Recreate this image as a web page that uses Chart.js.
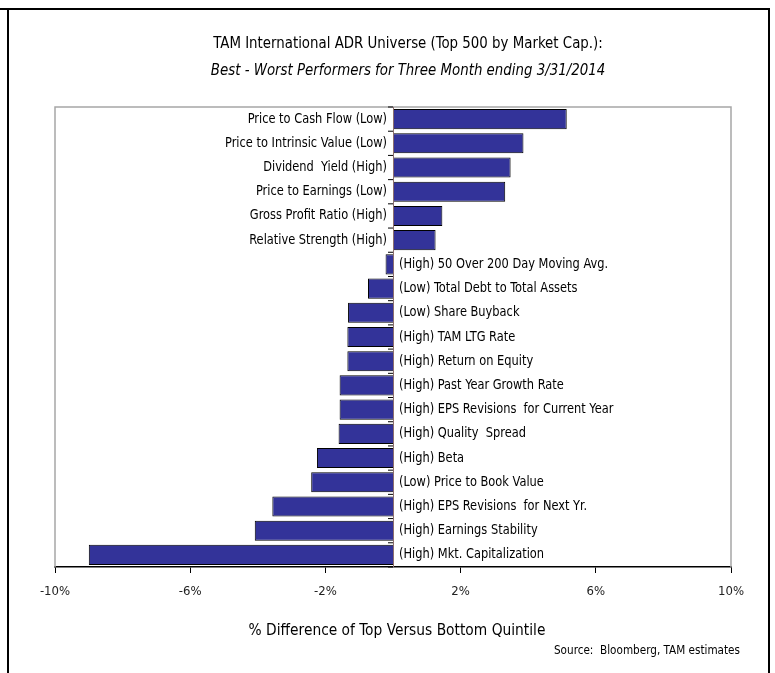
<!DOCTYPE html>
<html>
<head>
<meta charset="utf-8">
<script src="https://cdn.jsdelivr.net/npm/chart.js@4"></script>
<style>
  html, body { margin: 0; padding: 0; background: #fff; }
  #wrap { width: 775px; height: 673px; }
</style>
</head>
<body>
<div id="wrap"><canvas id="chart" width="775" height="673"></canvas></div>
<script>
// dati
const categories = [
  'Price to Cash Flow (Low)',
  'Price to Intrinsic Value (Low)',
  'Dividend  Yield (High)',
  'Price to Earnings (Low)',
  'Gross Profit Ratio (High)',
  'Relative Strength (High)',
  '(High) 50 Over 200 Day Moving Avg.',
  '(Low) Total Debt to Total Assets',
  '(Low) Share Buyback',
  '(High) TAM LTG Rate',
  '(High) Return on Equity',
  '(High) Past Year Growth Rate',
  '(High) EPS Revisions  for Current Year',
  '(High) Quality  Spread',
  '(High) Beta',
  '(Low) Price to Book Value',
  '(High) EPS Revisions  for Next Yr.',
  '(High) Earnings Stability',
  '(High) Mkt. Capitalization'
];
const spreadValues = [5.14, 3.86, 3.48, 3.32, 1.46, 1.26, -0.22, -0.74, -1.33, -1.35, -1.35, -1.58, -1.58, -1.61, -2.25, -2.42, -3.57, -4.09, -9.0];
const axisMin = -10;
const axisMax = 10;
const axisStep = 4;

const titleText = 'TAM International ADR Universe (Top 500 by Market Cap.):';
const subtitleText = 'Best - Worst Performers for Three Month ending 3/31/2014';
const xTitleText = '% Difference of Top Versus Bottom Quintile';
const sourceText = 'Source:  Bloomberg, TAM estimates';

const FONT = '"DejaVu Sans Condensed", "DejaVu Sans", sans-serif';

// testo stretto orizzontalmente (simula Calibri)
function narrowText(ctx, txt, x, y, align, sx) {
  ctx.save();
  ctx.translate(x, y);
  ctx.scale(sx, 1);
  ctx.textAlign = align;
  ctx.fillText(txt, 0, 0);
  ctx.restore();
}

// cornice, bordo area e testi
const decorPlugin = {
  id: 'decor',
  beforeDraw(c) {
    const ctx = c.ctx;
    ctx.save();
    ctx.fillStyle = '#fff';
    ctx.fillRect(0, 0, c.width, c.height);
    ctx.strokeStyle = '#000';
    ctx.lineWidth = 2;
    ctx.beginPath();
    ctx.moveTo(0, 9); ctx.lineTo(770, 9);
    ctx.moveTo(8, 9); ctx.lineTo(8, 673);
    ctx.moveTo(769, 9); ctx.lineTo(769, 673);
    ctx.stroke();
    ctx.restore();
  },
  beforeDatasetsDraw(c) {
    const ctx = c.ctx;
    const a = c.chartArea;
    ctx.save();
    ctx.strokeStyle = '#a6a6a6';
    ctx.lineWidth = 1.5;
    ctx.beginPath();
    ctx.moveTo(a.left, a.bottom); ctx.lineTo(a.left, a.top);
    ctx.lineTo(a.right, a.top); ctx.lineTo(a.right, a.bottom);
    ctx.stroke();
    ctx.restore();
  },
  afterDatasetsDraw(c) {
    const ctx = c.ctx;
    const a = c.chartArea;
    const x0 = c.scales.x.getPixelForValue(0);
    const yScale = c.scales.y;
    ctx.save();
    // asse verticale sullo zero
    ctx.strokeStyle = '#8c6f6f';
    ctx.lineWidth = 1;
    ctx.beginPath();
    ctx.moveTo(x0 + 0.5, a.top); ctx.lineTo(x0 + 0.5, a.bottom);
    ctx.stroke();
    ctx.strokeStyle = '#000';
    ctx.beginPath();
    const step = (a.bottom - a.top) / categories.length;
    for (let i = 0; i <= categories.length; i++) {
      const y = a.top + i * step;
      ctx.moveTo(x0 - 5, y); ctx.lineTo(x0, y);
    }
    ctx.stroke();

    // etichette categorie accanto allo zero
    ctx.fillStyle = '#000';
    ctx.font = '13.5px ' + FONT;
    ctx.textBaseline = 'middle';
    categories.forEach((lab, i) => {
      const y = yScale.getPixelForValue(i);
      if (spreadValues[i] >= 0) {
        narrowText(ctx, lab, x0 - 6, y, 'right', 0.94);
      } else {
        narrowText(ctx, lab, x0 + 6, y, 'left', 0.94);
      }
    });

    // titoli
    ctx.font = '16.5px ' + FONT;
    narrowText(ctx, titleText, 408, 44, 'center', 0.9);
    ctx.font = 'italic 16.5px ' + FONT;
    narrowText(ctx, subtitleText, 408, 71, 'center', 0.9);
    ctx.font = '16.5px ' + FONT;
    narrowText(ctx, xTitleText, 397, 631, 'center', 0.93);
    ctx.font = '12.5px ' + FONT;
    narrowText(ctx, sourceText, 740, 651, 'right', 0.93);
    ctx.restore();
  }
};

const chart = new Chart(document.getElementById('chart'), {
  type: 'bar',
  data: {
    labels: categories,
    datasets: [{
      data: spreadValues,
      backgroundColor: '#333399',
      borderColor: '#000',
      borderWidth: 1,
      barPercentage: 0.83,
      categoryPercentage: 1
    }]
  },
  options: {
    indexAxis: 'y',
    responsive: false,
    animation: false,
    devicePixelRatio: 1,
    layout: { padding: { left: 55, right: 44, top: 107, bottom: 66 } },
    plugins: { legend: { display: false }, title: { display: false }, tooltip: { enabled: false } },
    scales: {
      x: {
        min: axisMin,
        max: axisMax,
        afterFit: s => { s.height = 40; },
        ticks: {
          stepSize: axisStep,
          callback: v => v + '%',
          color: '#222',
          font: { family: FONT, size: 13 },
          padding: 11,
          maxRotation: 0
        },
        grid: { drawOnChartArea: false, drawTicks: true, tickLength: 6, tickColor: '#000' },
        border: { color: '#000', width: 1.5 }
      },
      y: { display: false }
    }
  },
  plugins: [decorPlugin]
});
</script>
</body>
</html>
